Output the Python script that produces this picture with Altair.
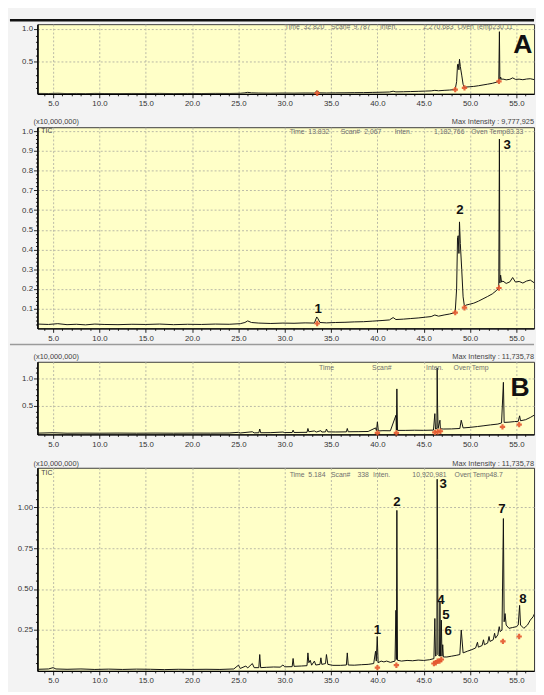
import altair as alt
import pandas as pd

FONT = "Liberation Sans"

# ---------------- data (time in min, intensity in x10,000,000) -------------
A_T = [3.35, 4.5, 5.5, 6.5, 7.5, 8.5, 9.5, 10.5, 12.0, 13.5, 15.0, 16.5, 18.0, 19.5, 21.0, 22.5,
       24.0, 25.2, 25.7, 26.0, 26.4, 27.2, 28.5, 29.8, 31.0, 32.2, 33.2, 33.45, 33.55, 33.8, 34.5,
       35.5, 36.5, 37.5, 38.5, 39.5, 40.5, 41.3, 41.7, 42.0, 42.8, 43.6, 44.4, 45.2, 45.8, 46.2,
       46.6, 47.2, 47.8, 48.2, 48.4, 48.55, 48.65, 48.72, 48.8, 48.86, 48.95, 49.1, 49.25, 49.4,
       49.55, 49.9, 50.4, 50.9, 51.4, 51.9, 52.4, 52.8, 53.0, 53.1, 53.17, 53.22, 53.3, 53.4,
       53.55, 53.9, 54.3, 54.6, 54.9, 55.3, 55.7, 56.1, 56.5, 56.9, 57.2]
A_V = [0.022, 0.020, 0.024, 0.019, 0.021, 0.018, 0.022, 0.020, 0.019, 0.021, 0.020, 0.022, 0.019,
       0.021, 0.020, 0.022, 0.021, 0.024, 0.030, 0.038, 0.030, 0.027, 0.025, 0.027, 0.026, 0.028,
       0.027, 0.058, 0.052, 0.030, 0.028, 0.030, 0.031, 0.033, 0.034, 0.037, 0.040, 0.043, 0.055,
       0.045, 0.047, 0.050, 0.053, 0.057, 0.060, 0.068, 0.062, 0.068, 0.073, 0.078, 0.085, 0.20,
       0.46, 0.47, 0.38, 0.54, 0.43, 0.30, 0.16, 0.110, 0.118, 0.122, 0.128, 0.138, 0.150, 0.162,
       0.175, 0.190, 0.200, 0.210, 0.96, 0.230, 0.270, 0.235, 0.240, 0.228, 0.236, 0.258, 0.235,
       0.238, 0.230, 0.240, 0.245, 0.232, 0.234]
A_MARK_T = [33.5, 48.4, 49.4, 53.12]
A_MARK_V = [0.025, 0.080, 0.105, 0.205]
A_LAB = ["1", "2", "3"]
A_LAB_T = [33.6, 48.9, 54.0]
A_LAB_V = [0.10, 0.60, 0.93]

B1_T = [3.4, 5.0, 6.5, 8.0, 10.0, 12.0, 14.0, 16.0, 18.0, 20.0, 22.0, 24.0, 25.0, 25.2, 26.5, 26.7,
        27.2, 27.3, 27.4, 28.5, 29.8, 30.0, 30.8, 30.9, 31.0, 32.4, 32.5, 32.6, 33.2, 33.4, 33.9,
        34.0, 34.4, 34.5, 34.65, 35.5, 36.65, 36.75, 36.85, 38.0, 39.0, 39.8, 39.9, 40.0, 40.1,
        40.6, 41.4, 42.0, 42.05, 42.1, 42.17, 43.0, 44.0, 45.0, 46.05, 46.2, 46.27, 46.42, 46.45,
        46.5, 46.55, 46.75, 46.8, 47.1, 48.0, 48.9, 49.05, 49.25, 50.0, 50.8, 51.5, 52.2, 53.0,
        53.4, 53.6, 53.68, 54.2, 54.8, 55.2, 55.35, 55.45, 56.0, 56.5, 57.0]
B1_V = [0.005, 0.012, 0.004, 0.006, 0.004, 0.006, 0.004, 0.006, 0.004, 0.006, 0.005, 0.007, 0.020,
        0.008, 0.030, 0.010, 0.012, 0.080, 0.012, 0.014, 0.025, 0.015, 0.016, 0.060, 0.017, 0.020,
        0.090, 0.030, 0.045, 0.025, 0.050, 0.025, 0.028, 0.080, 0.028, 0.026, 0.028, 0.090, 0.030,
        0.032, 0.035, 0.100, 0.045, 0.210, 0.045, 0.050, 0.048, 0.330, 0.060, 0.810, 0.055, 0.055,
        0.058, 0.056, 0.060, 0.360, 0.080, 0.090, 1.190, 0.460, 0.090, 0.240, 0.085, 0.080, 0.082,
        0.090, 0.240, 0.100, 0.110, 0.125, 0.140, 0.155, 0.170, 0.190, 0.930, 0.200, 0.205, 0.215,
        0.220, 0.320, 0.230, 0.250, 0.290, 0.340]
B1_MARK_T = [40.0, 42.05, 46.2, 46.5, 46.8, 53.5, 55.3]
B1_MARK_V = [0.01, 0.01, 0.02, 0.03, 0.04, 0.12, 0.16]

B2_T = [3.4, 4.5, 5.0, 5.3, 6.5, 8.0, 9.5, 11.0, 12.5, 14.0, 15.5, 17.0, 18.5, 20.0, 21.5, 23.0,
        24.5, 25.0, 25.2, 25.8, 26.0, 26.5, 26.7, 27.2, 27.3, 27.4, 28.0, 28.8, 29.5, 29.8, 30.0,
        30.8, 30.9, 31.0, 31.8, 32.4, 32.5, 32.6, 32.75, 32.9, 33.2, 33.35, 33.8, 33.9, 34.0, 34.4,
        34.5, 34.65, 35.2, 36.0, 36.65, 36.75, 36.85, 37.5, 38.3, 39.0, 39.6, 39.8, 39.88, 39.98,
        40.08, 40.4, 40.7, 41.0, 41.4, 41.9, 42.0, 42.05, 42.1, 42.17, 42.6, 43.2, 43.8, 44.4,
        45.0, 45.6, 46.1, 46.2, 46.27, 46.42, 46.45, 46.5, 46.55, 46.7, 46.75, 46.8, 46.9, 46.97,
        47.05, 47.12, 47.5, 48.0, 48.5, 48.9, 49.05, 49.25, 49.7, 50.2, 50.6, 50.8, 50.9, 51.3,
        51.45, 51.55, 51.9, 52.05, 52.15, 52.5, 52.65, 52.75, 53.0, 53.15, 53.25, 53.45, 53.6,
        53.68, 53.78, 53.9, 54.2, 54.6, 55.0, 55.2, 55.35, 55.45, 55.8, 56.2, 56.5, 56.8, 57.2]
B2_V = [0.010, 0.012, 0.020, 0.012, 0.010, 0.012, 0.009, 0.011, 0.009, 0.011, 0.010, 0.008, 0.010,
        0.009, 0.010, 0.009, 0.012, 0.035, 0.015, 0.030, 0.018, 0.045, 0.020, 0.020, 0.100, 0.020,
        0.022, 0.024, 0.023, 0.036, 0.025, 0.026, 0.076, 0.028, 0.030, 0.032, 0.110, 0.050, 0.065,
        0.035, 0.060, 0.036, 0.040, 0.080, 0.040, 0.045, 0.100, 0.040, 0.034, 0.034, 0.036, 0.110,
        0.036, 0.035, 0.038, 0.040, 0.045, 0.120, 0.060, 0.210, 0.050, 0.060, 0.055, 0.060, 0.052,
        0.060, 0.370, 0.070, 0.980, 0.065, 0.060, 0.064, 0.062, 0.066, 0.064, 0.068, 0.075, 0.320,
        0.090, 0.100, 1.170, 0.680, 0.100, 0.090, 0.420, 0.090, 0.310, 0.090, 0.160, 0.085, 0.085,
        0.090, 0.095, 0.100, 0.250, 0.110, 0.120, 0.130, 0.140, 0.175, 0.145, 0.155, 0.190, 0.160,
        0.170, 0.210, 0.180, 0.190, 0.230, 0.200, 0.220, 0.270, 0.240, 0.250, 0.930, 0.300, 0.350,
        0.280, 0.260, 0.265, 0.270, 0.280, 0.400, 0.280, 0.260, 0.280, 0.310, 0.330, 0.380]
B2_MARK_T = [40.0, 42.05, 46.1, 46.3, 46.5, 46.7, 46.9, 53.55, 55.3]
B2_MARK_V = [0.02, 0.035, 0.045, 0.05, 0.06, 0.06, 0.07, 0.18, 0.21]
B2_LAB = ["1", "2", "3", "4", "5", "6", "7", "8"]
B2_LAB_T = [40.0, 42.1, 47.1, 46.85, 47.4, 47.65, 53.45, 55.7]
B2_LAB_V = [0.25, 1.03, 1.14, 0.43, 0.34, 0.245, 0.99, 0.44]

X_TICKS = list(range(4, 58))
Y_TICKS_A1 = [round(0.1 * i, 2) for i in range(1, 11)]
Y_TICKS_A2 = [round(0.02 * i, 2) for i in range(1, 51)]
Y_TICKS_B1 = [round(0.1 * i, 2) for i in range(1, 13)]
Y_TICKS_B2 = [round(0.05 * i, 2) for i in range(1, 25)]

HEAD_A1 = [("Time", 252), ("32.820", 271), ("Scan#", 299), ("9,787", 322), ("Inten.", 349),
           ("2,270,683", 393), ("Oven Temp230.11", 428)]
HEAD_A2 = [("Time", 257), ("13.832", 276), ("Scan#", 309), ("2,067", 333), ("Inten.", 364),
           ("1,182,766", 404), ("Oven Temp83.33", 442)]
HEAD_B1 = [("Time", 287), ("Scan#", 341), ("Inten.", 396), ("Oven Temp", 424)]
HEAD_B2 = [("Time", 257), ("5.184", 276), ("Scan#", 299), ("338", 326), ("Inten.", 342),
           ("10,920,981", 382), ("Oven Temp48.7", 425)]

W = 506
X_DOMAIN = [3.305, 3.305 + W / 9.44]


def xenc():
    t5 = "datum.value % 5 === 0"
    return alt.X("t:Q", scale=alt.Scale(domain=X_DOMAIN, nice=False, zero=False),
                 axis=alt.Axis(values=X_TICKS, title=None, labelOverlap=False, labelFlush=False,
                               labelExpr=f"{t5} ? format(datum.value, '.1f') : ''",
                               tickSize={"condition": {"test": t5, "value": 4}, "value": 2},
                               gridOpacity={"condition": {"test": t5, "value": 1}, "value": 0},
                               grid=True, gridDash=[2, 2], gridColor="#b9b9a6",
                               domainColor="#000", domainWidth=1.2, tickColor="#222",
                               labelFontSize=8, labelColor="#333", labelPadding=2, labelFont=FONT))


def yenc(domain, ticks, mult, fmt):
    test = f"abs(datum.value*{mult} - round(datum.value*{mult})) < 0.001"
    return alt.Y("v:Q", scale=alt.Scale(domain=domain, nice=False, zero=False),
                 axis=alt.Axis(values=ticks, title=None, labelOverlap=False, labelFlush=False,
                               labelExpr=f"{test} ? format(datum.value, '{fmt}') : ''",
                               tickSize={"condition": {"test": test, "value": 4}, "value": 2},
                               gridOpacity={"condition": {"test": test, "value": 1}, "value": 0},
                               grid=True, gridDash=[2, 2], gridColor="#b9b9a6",
                               domainColor="#000", domainWidth=1.6, tickColor="#222",
                               labelFontSize=8, labelColor="#333", labelPadding=1, labelFont=FONT))


def text_at(s, x, y, size=7, color="#6f6f6f", align="left", weight="normal"):
    return alt.Chart(pd.DataFrame({"s": [s]})).mark_text(
        align=align, baseline="middle", fontSize=size, color=color, font=FONT, fontWeight=weight
    ).encode(x=alt.value(x), y=alt.value(y), text="s:N")


def panel(tt, vv, mt, mv, lab, lt, lv, ydom, ticks, mult, fmt, height, extra):
    X = xenc()
    Y = yenc(ydom, ticks, mult, fmt)
    layers = [alt.Chart(pd.DataFrame({"t": tt, "v": vv})).mark_line(
        color="#111", strokeWidth=1, clip=True).encode(x=X, y=Y)]
    layers.append(alt.Chart(pd.DataFrame({"t": mt, "v": mv})).mark_point(
        shape="cross", filled=True, size=30, color="#e4572e", opacity=0.9).encode(x=X, y=Y))
    if lab:
        layers.append(alt.Chart(pd.DataFrame({"t": lt, "v": lv, "s": lab})).mark_text(
            font=FONT, fontWeight="bold", fontSize=13.5, color="#111", baseline="middle").encode(
            x=X, y=Y, text="s:N"))
    for e in extra:
        layers.append(e)
    return alt.layer(*layers).properties(width=W, height=height)


def big_letter(letter, t, v, ydom, ticks, mult, fmt):
    return alt.Chart(pd.DataFrame({"t": [t], "v": [v], "s": [letter]})).mark_text(
        font=FONT, fontWeight="bold", fontSize=27, color="#111", baseline="middle").encode(
        x=xenc(), y=yenc(ydom, ticks, mult, fmt), text="s:N")


A1_DOM = [0.015, 1.074]
A2_DOM = [0.0, 1.02]
B1_DOM = [-0.018, 1.304]
B2_DOM = [0.0, 1.24]

a1_extra = [alt.Chart(pd.DataFrame({"k": [0]})).mark_rule(color="#111", strokeWidth=2.5).encode(
    x=alt.value(-28), x2=alt.value(W), y=alt.value(-4))]
a1_extra += [text_at(s, x, 3) for s, x in HEAD_A1]
a1_extra.append(big_letter("A", 55.7, 0.76, A1_DOM, Y_TICKS_A1, 2, ".1f"))

a2_extra = [alt.Chart(pd.DataFrame({"k": [0]})).mark_rule(color="#9a9a9a", strokeWidth=1.5).encode(
    x=alt.value(-28), x2=alt.value(W), y=alt.value(221.5))]
a2_extra += [text_at(s, x, 5) for s, x in HEAD_A2]
a2_extra += [text_at("TIC", 4, 4, size=7, color="#444"),
             text_at("(x10,000,000)", -4, -5, size=7.5, color="#444"),
             text_at("Max Intensity : 9,777,925", W, -5, size=7.5, color="#444", align="right")]

b1_extra = [text_at(s, x, 6) for s, x in HEAD_B1]
b1_extra += [text_at("(x10,000,000)", -4, -5, size=7.5, color="#444"),
             text_at("Max Intensity : 11,735,78", W, -5, size=7.5, color="#444", align="right")]
b1_extra.append(big_letter("B", 55.4, 0.82, B1_DOM, Y_TICKS_B1, 2, ".1f"))

b2_extra = [text_at(s, x, 7) for s, x in HEAD_B2]
b2_extra += [text_at("TIC", 4, 5, size=7, color="#444"),
             text_at("(x10,000,000)", -4, -4, size=7.5, color="#444"),
             text_at("Max Intensity : 11,735,78", W, -4, size=7.5, color="#444", align="right")]

a1 = panel(A_T, A_V, A_MARK_T, A_MARK_V, None, None, None, A1_DOM, Y_TICKS_A1, 2, ".1f", 71, a1_extra)
a2 = panel(A_T, A_V, A_MARK_T, A_MARK_V, A_LAB, A_LAB_T, A_LAB_V, A2_DOM, Y_TICKS_A2, 10, ".1f", 205, a2_extra)
b1 = panel(B1_T, B1_V, B1_MARK_T, B1_MARK_V, None, None, None, B1_DOM, Y_TICKS_B1, 2, ".1f", 74, b1_extra)
b2 = panel(B2_T, B2_V, B2_MARK_T, B2_MARK_V, B2_LAB, B2_LAB_T, B2_LAB_V, B2_DOM, Y_TICKS_B2, 4, ".2f", 207, b2_extra)

chart = alt.vconcat(a1, a2, b1, b2, spacing=34, bounds="flush").properties(
    background="#f3f3f3",
    padding={"top": 4, "left": 0, "right": 0, "bottom": 0},
).configure_view(fill="#ffffc8", stroke="#3a3a3a", strokeWidth=1)

chart.save("out.html", embed_options={"renderer": "svg", "actions": False})
